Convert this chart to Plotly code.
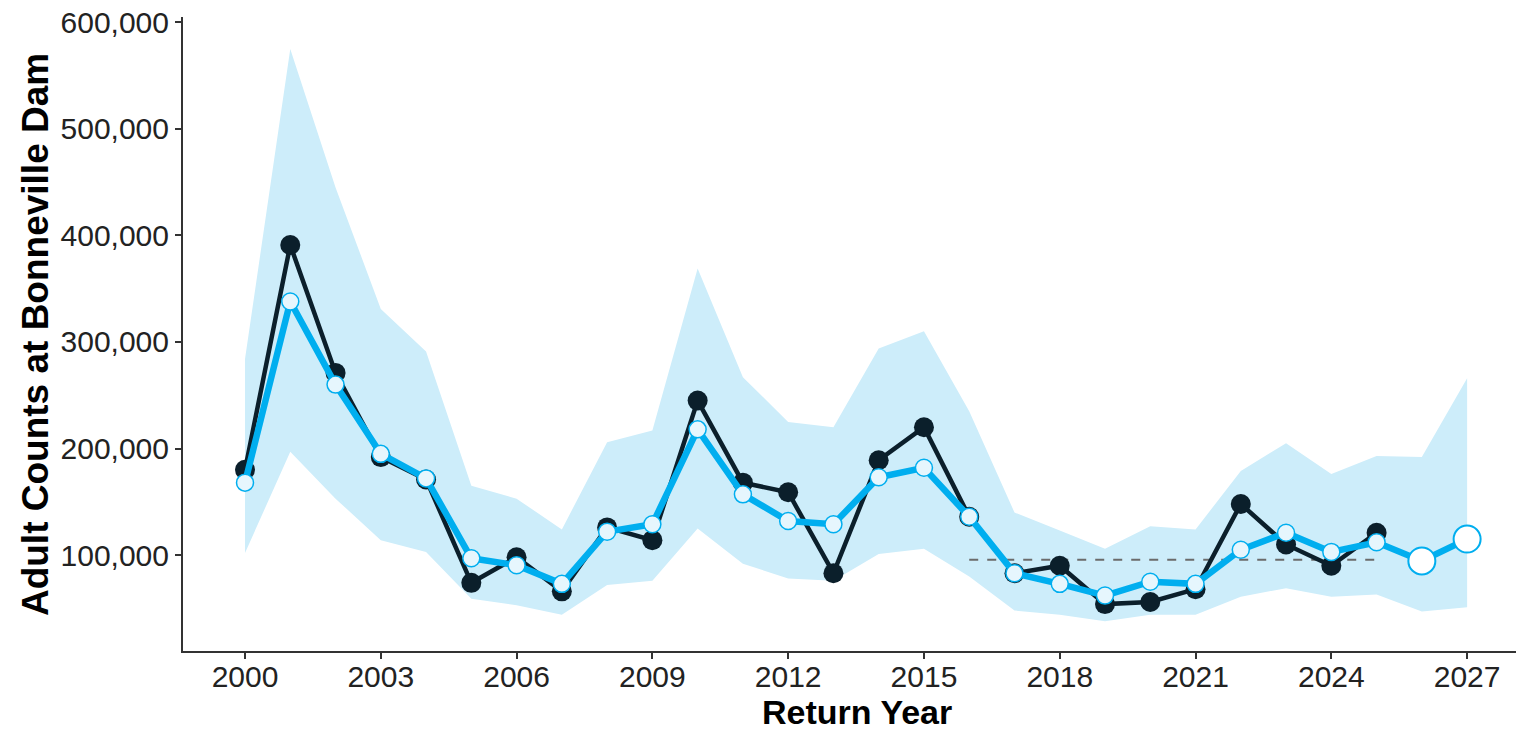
import plotly.graph_objects as go

# ---- data ----
obs_years = list(range(2000, 2026))
observed = [180000, 391000, 271000, 192000, 171000, 74000, 98000, 66000, 126000, 114000,
            245000, 168000, 159000, 83000, 189000, 220000, 136000, 83000, 90000, 54000,
            56000, 68000, 148000, 110000, 90000, 121000]
model_fit = [168000, 338000, 260000, 195000, 172000, 97000, 90500, 73000, 122000, 129000,
             218000, 157000, 132000, 129000, 173000, 182000, 136000, 83000, 73000, 62000,
             75000, 73000, 105000, 121000, 103000, 112000]
fc_years = [2026, 2027]
forecast = [94500, 115000]
band_years = list(range(2000, 2028))
upper = [284000, 575000, 445000, 331000, 291000, 165000, 153000, 124000, 206000, 217000,
         369000, 267000, 225000, 220000, 294000, 310000, 235000, 140000, 123000, 106000,
         127000, 124000, 179000, 205000, 176000, 193000, 192000, 266000]
lower = [102000, 197000, 153000, 114000, 103000, 59000, 53000, 44000, 72000, 76000,
         125000, 92000, 78000, 76000, 101000, 106000, 80000, 48000, 44000, 38000,
         44000, 44000, 61000, 69000, 61000, 63000, 47000, 51000]
mean_years = [2016, 2025]
recent_mean = sum(observed[16:26]) / 10.0
x_ticks = list(range(2000, 2028, 3))
y_ticks = [100000, 200000, 300000, 400000, 500000, 600000]

BLUE = "#00AEEF"
DARK = "#0B1F2B"
BAND = "#CDEDFA"
FONT = "Liberation Sans, Arial, sans-serif"

fig = go.Figure()
fig.add_trace(go.Scatter(x=band_years, y=lower, mode="lines", line=dict(width=0, color=BAND),
                         hoverinfo="skip", showlegend=False))
fig.add_trace(go.Scatter(x=band_years, y=upper, mode="lines", line=dict(width=0, color=BAND),
                         fill="tonexty", fillcolor=BAND, hoverinfo="skip", showlegend=False))
fig.add_trace(go.Scatter(x=mean_years, y=[recent_mean, recent_mean], mode="lines",
                         line=dict(color="#6b6b6b", width=2, dash="dash"), showlegend=False))
fig.add_trace(go.Scatter(x=obs_years, y=observed, mode="lines+markers",
                         line=dict(color=DARK, width=4.5),
                         marker=dict(size=20, color=DARK, line=dict(width=0)),
                         showlegend=False))
fig.add_trace(go.Scatter(x=obs_years + fc_years, y=model_fit + forecast, mode="lines",
                         line=dict(color=BLUE, width=6.5), showlegend=False))
fig.add_trace(go.Scatter(x=obs_years, y=model_fit, mode="markers",
                         marker=dict(size=17, color="#E6F6FD", line=dict(width=1.5, color=BLUE)),
                         showlegend=False))
fig.add_trace(go.Scatter(x=fc_years, y=forecast, mode="markers",
                         marker=dict(size=27, color="white", line=dict(width=2, color=BLUE)),
                         showlegend=False))

fig.update_layout(
    width=1516, height=731,
    margin=dict(l=183, r=0, t=17, b=80),
    plot_bgcolor="white", paper_bgcolor="white",
    font=dict(family=FONT, color="#222222"),
    showlegend=False,
    xaxis=dict(range=[1998.63, 2028.08], tickmode="array", tickvals=x_ticks,
               ticktext=[str(t) for t in x_ticks],
               showgrid=False, zeroline=False, showline=True, linecolor="#333333", linewidth=2,
               ticks="outside", ticklen=6, tickwidth=1.5, tickcolor="#333333",
               ticklabelstandoff=-8, ticklabeloverflow="allow",
               tickfont=dict(size=30, family=FONT, color="#222222")),
    yaxis=dict(range=[10000, 605000], tickmode="array", tickvals=y_ticks,
               ticktext=[f"{v:,}" for v in y_ticks],
               showgrid=False, zeroline=False, showline=True, linecolor="#333333", linewidth=2,
               ticks="outside", ticklen=6, tickwidth=1.5, tickcolor="#333333",
               ticklabeloverflow="allow",
               tickfont=dict(size=30, family=FONT, color="#222222")),
    annotations=[
        dict(text="<b>Return Year</b>", xref="paper", yref="paper", x=0.5053, y=-0.096,
             xanchor="center", yanchor="middle", showarrow=False,
             font=dict(size=34, family=FONT, color="black")),
        dict(text="<b>Adult Counts at Bonneville Dam</b>", xref="paper", yref="paper",
             x=-0.111, y=0.4984, xanchor="center", yanchor="middle", textangle=-90,
             showarrow=False, font=dict(size=37, family=FONT, color="black")),
    ],
)

fig.write_html("out.html", config={"displayModeBar": False},
               post_script="document.body.style.margin='0px';document.body.style.padding='0px';")
